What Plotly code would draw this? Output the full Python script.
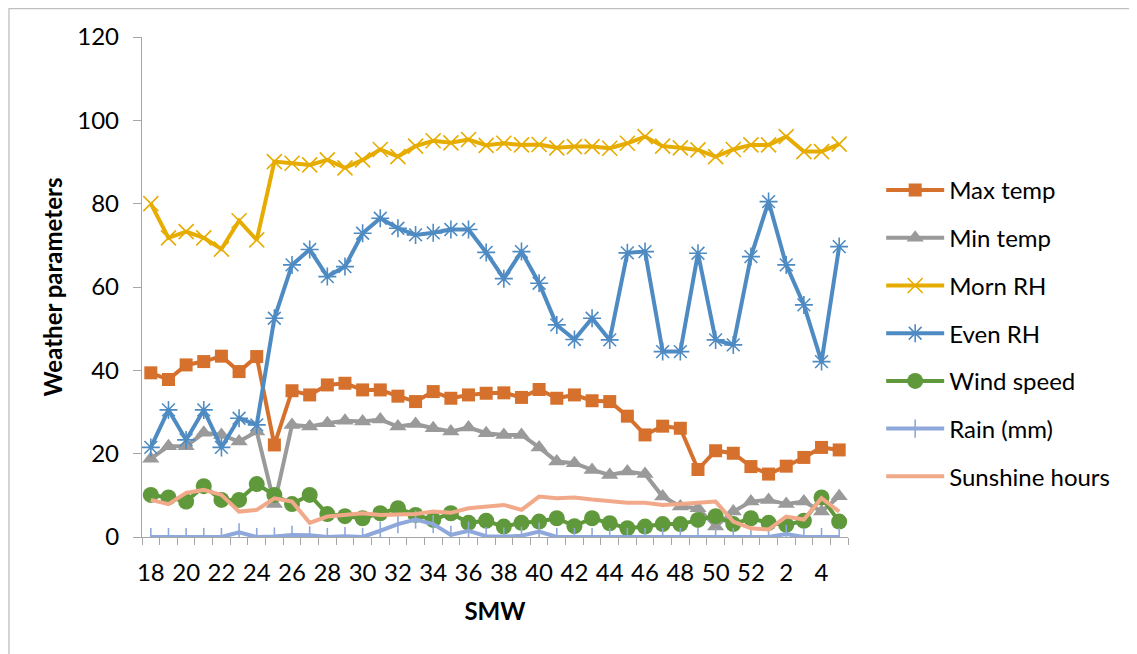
import plotly.graph_objects as go

weeks = list(range(18, 53)) + [1, 2, 3, 4, 5]

max_temp = [39.4, 37.8, 41.3, 42.1, 43.4, 39.7, 43.3, 22.1, 35.1, 34.1, 36.5, 36.9, 35.3, 35.3,
            33.8, 32.5, 34.9, 33.3, 34.1, 34.5, 34.6, 33.5, 35.4, 33.3, 34.1, 32.7, 32.5, 29.0,
            24.5, 26.6, 26.1, 16.2, 20.7, 20.1, 16.9, 15.1, 17.0, 19.1, 21.5, 20.9]
min_temp = [18.8, 21.8, 21.8, 25.0, 24.5, 22.9, 25.3, 7.9, 26.9, 26.5, 27.3, 27.9, 27.7, 28.2,
            26.5, 27.1, 26.1, 25.3, 26.3, 24.9, 24.5, 24.5, 21.5, 18.1, 17.7, 16.1, 14.9, 15.7,
            15.1, 9.7, 7.3, 6.9, 2.5, 6.1, 8.5, 8.9, 7.9, 8.5, 6.1, 9.8]
morn_rh = [80.0, 71.8, 73.3, 71.8, 69.1, 75.9, 71.3, 90.1, 89.7, 89.3, 90.5, 88.6, 90.5, 93.0,
           91.3, 93.8, 95.1, 94.6, 95.4, 94.0, 94.5, 94.1, 94.2, 93.4, 93.7, 93.7, 93.3, 94.5,
           96.1, 93.8, 93.4, 92.9, 91.3, 93.0, 94.1, 94.1, 96.1, 92.5, 92.5, 94.3]
even_rh = [21.5, 30.5, 23.3, 30.5, 21.5, 28.5, 26.9, 52.5, 65.3, 69.0, 62.5, 64.9, 72.9, 76.5,
           74.1, 72.5, 73.0, 73.8, 73.8, 68.3, 62.0, 68.5, 60.9, 50.9, 47.4, 52.5, 47.3, 68.2,
           68.5, 44.5, 44.5, 68.1, 47.3, 46.1, 67.3, 80.5, 65.3, 55.7, 42.1, 69.7]
wind_speed = [10.1, 9.5, 8.5, 12.2, 8.9, 8.9, 12.7, 10.1, 7.9, 10.1, 5.5, 5.0, 4.5, 5.7,
              6.9, 5.3, 4.1, 5.7, 3.4, 3.9, 2.5, 3.4, 3.7, 4.5, 2.6, 4.5, 3.3, 2.1,
              2.5, 3.1, 3.1, 4.1, 5.0, 3.1, 4.5, 3.4, 2.9, 3.9, 9.5, 3.7]
rain = [0.0, 0.0, 0.0, 0.0, 0.0, 1.1, 0.0, 0.1, 0.5, 0.4, 0.0, 0.2, 0.0, 1.5,
        3.1, 4.2, 3.1, 0.5, 1.5, 0.2, 0.1, 0.3, 1.3, 0.0, 0.0, 0.0, 0.0, 0.0,
        0.0, 0.0, 0.0, 0.0, 0.0, 0.0, 0.0, 0.0, 0.7, 0.0, 0.0, 0.0]
sunshine = [8.9, 7.9, 10.6, 11.3, 10.1, 6.1, 6.5, 9.3, 8.5, 3.4, 4.9, 5.3, 5.7, 5.3,
            5.5, 5.5, 6.1, 5.8, 6.9, 7.3, 7.7, 6.5, 9.7, 9.3, 9.5, 9.0, 8.7, 8.2,
            8.2, 7.7, 7.9, 8.2, 8.5, 3.7, 2.1, 1.8, 4.9, 4.2, 9.3, 6.1]

y_ticks = [0, 20, 40, 60, 80, 100, 120]

FONT = "Lato"
FS = 24
xs = list(range(len(weeks)))
tick_idx = xs[::2]
tick_text = [str(weeks[i]) for i in tick_idx]

series = [
    ("Max temp", max_temp, "#D5712D", dict(symbol="square", size=13)),
    ("Min temp", min_temp, "#9A9A9A", dict(symbol="triangle-up", size=15)),
    ("Morn RH", morn_rh, "#E6AC00", dict(symbol="x-thin-open", size=15, line=dict(width=1.6))),
    ("Even RH", even_rh, "#4F8BC3", dict(symbol="asterisk-open", size=15, line=dict(width=1.6))),
    ("Wind speed", wind_speed, "#5F993B", dict(symbol="circle", size=16)),
    ("Rain (mm)", rain, "#8FA8DB", dict(symbol="line-ns-open", size=13, line=dict(width=1.6))),
    ("Sunshine hours", sunshine, "#F2A98A", None),
]

fig = go.Figure()
for i, (name, vals, color, mk) in enumerate(series):
    if mk is None:
        mode = "lines"
        marker = None
    else:
        mode = "lines+markers"
        marker = dict(color=color, **mk)
        if "line" in marker:
            marker["line"] = dict(color=color, width=mk["line"]["width"])
    fig.add_trace(go.Scatter(
        x=xs, y=vals, name=name, mode=mode,
        line=dict(color=color, width=4),
        marker=marker, legendgroup=name,
    ))

fig.update_layout(
    width=1137, height=654,
    margin=dict(l=134, r=297, t=29, b=125),
    paper_bgcolor="white", plot_bgcolor="white",
    font=dict(family=FONT, size=FS, color="#000000"),
    showlegend=True,
    legend=dict(x=1.047, y=0.738, xanchor="left", yanchor="top",
                font=dict(size=FS, family=FONT), tracegroupgap=13.5,
                itemwidth=58, bgcolor="rgba(0,0,0,0)"),
    xaxis=dict(
        range=[-0.5, len(weeks) - 0.5],
        tickmode="array", tickvals=tick_idx, ticktext=tick_text,
        ticks="", showgrid=False, zeroline=False,
        showline=True, linecolor="#A6A6A6", linewidth=1.3,
        tickfont=dict(size=FS, family=FONT), ticklabelstandoff=14,
        minor=dict(ticks="outside", tick0=-0.5, dtick=1, ticklen=7,
                   tickcolor="#A6A6A6", tickwidth=1.3, showgrid=False),
        title=dict(text="<b>SMW</b>", font=dict(size=FS, family=FONT), standoff=18),
    ),
    yaxis=dict(
        range=[0, 120], tickmode="array", tickvals=y_ticks,
        ticks="outside", ticklen=8, tickcolor="#A6A6A6", tickwidth=1.3,
        showgrid=False, zeroline=False,
        showline=True, linecolor="#A6A6A6", linewidth=1.3,
        tickfont=dict(size=FS, family=FONT), ticklabelstandoff=9,
        title=dict(text="<b>Weather parameters</b>", font=dict(size=FS, family=FONT), standoff=7),
    ),
    shapes=[dict(type="rect", xref="paper", yref="paper",
                 x0=-0.1884, x1=1.4065, y0=-0.262, y1=1.057,
                 line=dict(color="#BFBFBF", width=1.3), layer="below")],
)

fig.write_html("out.html")
